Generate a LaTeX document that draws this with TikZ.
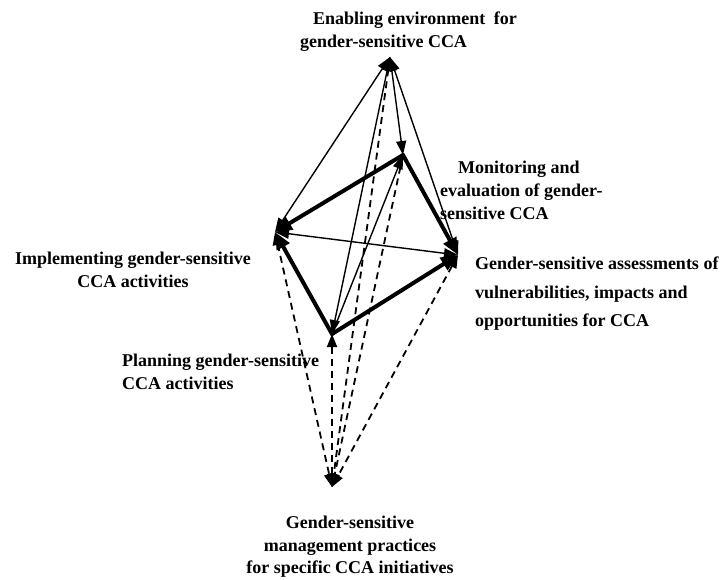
\documentclass[tikz,border=0pt]{standalone}
\usepackage{fontspec}
\setmainfont{Liberation Serif}
\usetikzlibrary{arrows.meta}
\begin{document}
\begin{tikzpicture}[x=1pt,y=-1pt,
  lbl/.style={inner sep=0pt, font=\fontsize{18pt}{23pt}\selectfont\bfseries, text=black},
  oneway/.style={line width=1.4pt, -{Triangle[length=14pt,width=10pt]}},
  twoway/.style={line width=1.4pt, {Triangle[length=14pt,width=10pt]}-{Triangle[length=14pt,width=10pt]}},
  heavy/.style={line width=4pt, line cap=round, -{Triangle[length=17pt,width=14pt]}},
  dashone/.style={line width=1.8pt, dash pattern=on 7pt off 5pt, -{Triangle[length=13pt,width=10pt]}},
  dashtwo/.style={line width=1.8pt, dash pattern=on 7pt off 5pt, {Triangle[length=13pt,width=10pt]}-{Triangle[length=13pt,width=10pt]}},
]
\useasboundingbox (0,0) rectangle (728,579);

% vertices of the cycle
\coordinate (E) at (390,57);
\coordinate (M) at (403,155);
\coordinate (I) at (275,232);
\coordinate (G) at (458,255);
\coordinate (P) at (332,334);
\coordinate (S) at (332,487);

% labels
\node[lbl, anchor=north west, align=left] (tE) at (300,12)
  {\hspace*{13pt}Enabling environment\hspace{4pt} for\\gender-sensitive CCA};
\node[lbl, anchor=north west, align=left] (tM) at (440,161)
  {\hspace*{18pt}Monitoring and\\evaluation of gender-\\sensitive CCA};
\node[lbl, anchor=north, align=center] (tI) at (133,252)
  {Implementing gender-sensitive\\CCA activities};
\node[lbl, anchor=north west, align=left,
      font=\fontsize{18pt}{28.5pt}\selectfont\bfseries] (tG) at (475,257)
  {Gender-sensitive assessments of\\vulnerabilities, impacts and\\opportunities for CCA};
\node[lbl, anchor=north west, align=left] (tP) at (122,354)
  {Planning gender-sensitive\\CCA activities};
\node[lbl, anchor=north, align=center,
      font=\fontsize{18pt}{22.5pt}\selectfont\bfseries] (tS) at (350,516)
  {Gender-sensitive\\management practices\\for specific CCA initiatives};

% links from the enabling environment
\draw[twoway] (E) -- (I);
\draw[twoway] (E) -- (P);
\draw[twoway] (E) -- (M);
\draw[twoway] (E) -- (G);

% links towards the management practices
\draw[dashtwo] (I) -- (S);
\draw[dashtwo] (P) -- (S);
\draw[dashtwo] (E) -- (S);
\draw[dashone] (M) -- (S);
\draw[dashtwo] (G) -- (S);

% inner links
\draw[twoway] (I) -- (G);
\draw[oneway] (P) -- (M);

% main cycle
\draw[heavy] (P) -- (I);
\draw[heavy] (M) -- (I);
\draw[heavy] (M) -- (G);
\draw[heavy] (P) -- (G);
\end{tikzpicture}
\end{document}
